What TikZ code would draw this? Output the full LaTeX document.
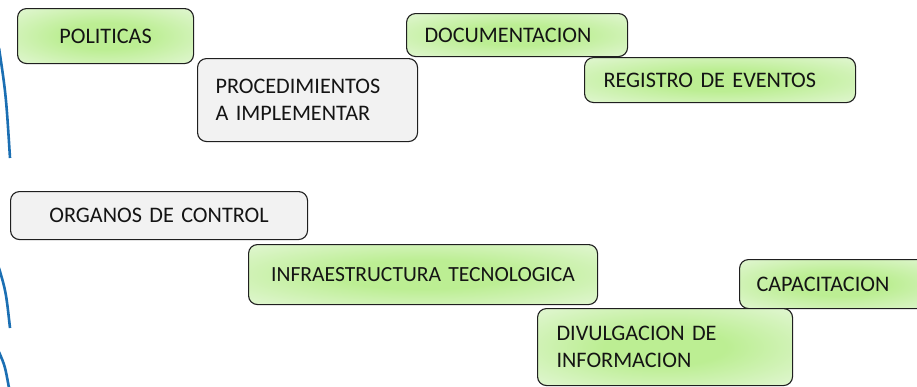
\documentclass[tikz,border=0pt]{standalone}
\usepackage{fontspec}
\setmainfont{Carlito}
\definecolor{gin}{HTML}{BCEE93}
\definecolor{gout}{HTML}{EEF9E8}
\definecolor{gbox}{HTML}{F2F2F2}
\definecolor{arcblue}{HTML}{1B6FB3}
\pgfdeclareradialshading{glow}{\pgfpoint{0bp}{0bp}}{color(0bp)=(gin); color(12bp)=(gin); color(44bp)=(gout); color(50bp)=(gout)}
\newcommand{\boxfont}{\fontsize{22.2}{27}\selectfont\spaceskip=2.6pt plus 0pt minus 0pt\relax}
\newcommand{\tightfont}{\fontsize{21.6}{27}\selectfont\spaceskip=2pt plus 0pt minus 0pt\relax}
\begin{document}
\begin{tikzpicture}[x=1pt,y=-1pt,
  box/.style={draw=black!88, line width=1.1pt, rounded corners=9pt, anchor=north west,
    inner xsep=18pt, inner ysep=0pt, font=\boxfont, align=left, text=black!92},
  greenbox/.style={box, shading=glow},
  graybox/.style={box, fill=gbox},
  arcline/.style={draw=arcblue, line width=2.6pt}]
\clip (0,0) rectangle (917,386);
% blue arc pieces at the left edge
\draw[arcline] (-1,48) .. controls (6,95) .. (10,158);
\draw[arcline] (-1,268) .. controls (6,292) .. (10,328);
\draw[arcline] (-1,352) .. controls (5,366) .. (9,388);
% boxes
\node[greenbox, align=center, text width=140pt, minimum width=176pt, minimum height=55pt] (pol) at (17,8) {POLITICAS};
\node[graybox, text width=184pt, minimum width=220pt, minimum height=83pt] (proc) at (197,58) {PROCEDIMIENTOS\\A IMPLEMENTAR};
\node[greenbox, text width=185pt, minimum width=221pt, minimum height=43pt] (doc) at (406,13) {DOCUMENTACION};
\node[greenbox, text width=233pt, minimum width=271pt, minimum height=45pt, inner xsep=19pt] (reg) at (584,57) {REGISTRO DE EVENTOS};
\node[graybox, align=center, text width=261pt, minimum width=297pt, minimum height=48pt] (org) at (10,191) {ORGANOS DE CONTROL};
\node[greenbox, align=center, text width=329pt, minimum width=349pt, minimum height=60pt, inner xsep=10pt, font=\tightfont] (infra) at (248,244) {INFRAESTRUCTURA TECNOLOGICA};
\node[greenbox, text width=166pt, minimum width=200pt, minimum height=49pt, inner xsep=17pt] (cap) at (739,259) {CAPACITACION};
\node[greenbox, text width=217pt, minimum width=255pt, minimum height=77pt, inner xsep=19pt] (div) at (537,308) {DIVULGACION DE\\INFORMACION};
\end{tikzpicture}
\end{document}
